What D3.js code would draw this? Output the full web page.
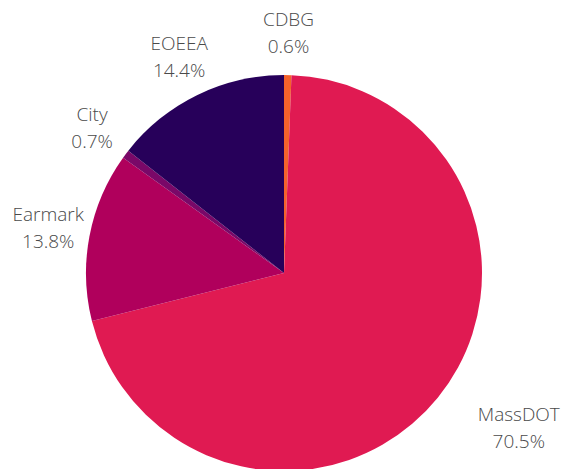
<!DOCTYPE html>
<html>

<head>
    <meta charset="utf-8">
    <title>Funding sources</title>
    <style>
        body {
            margin: 0;
            background: #fff;
        }

        svg {
            font-family: 'Open Sans', sans-serif;
        }

        .label text {
            font-size: 19px;
            font-weight: 300;
            fill: #4a4a4a;
        }
    </style>
</head>

<body>
    <figure style="margin:0"></figure>

    <script src="https://d3js.org/d3.v7.min.js"></script>

    <script>

        ////////////////////////////////////
        ///////////// Data /////////////////
        ////////////////////////////////////

        // slices in clockwise order from 12 o'clock
        const sources = ['CDBG', 'MassDOT', 'Earmark', 'City', 'EOEEA']
        const shares = [0.6, 70.5, 13.8, 0.7, 14.4]
        const colors = ['#f4622b', '#e01a52', '#b0005c', '#7a0868', '#27005a']

        const data = sources.map((s, i) => ({ name: s, value: shares[i], color: colors[i] }))

        ////////////////////////////////////
        ///////////// SVG Setup ////////////
        ////////////////////////////////////

        const width = 563
        const height = 469
        const radius = 198
        const cx = 284
        const cy = 273

        const svg = d3.select('figure')
            .append('svg')
            .attr('width', width)
            .attr('height', height)

        const g = svg.append('g')
            .attr('transform', `translate(${cx},${cy})`)

        const pie = d3.pie()
            .sort(null)
            .value(d => d.value)

        const arc = d3.arc()
            .innerRadius(0)
            .outerRadius(radius)

        const arcs = pie(data)

        ////////////////////////////////////
        /////////////// Slices /////////////
        ////////////////////////////////////

        g.selectAll('path.slice')
            .data(arcs)
            .enter()
            .append('path')
            .attr('class', 'slice')
            .attr('d', arc)
            .style('fill', d => d.data.color)

        ////////////////////////////////////
        /////////////// Labels /////////////
        ////////////////////////////////////

        const labelRadius = 240
        const lineH = 27

        const labels = g.selectAll('g.label')
            .data(arcs)
            .enter()
            .append('g')
            .attr('class', 'label')

        labels.append('text')
            .attr('text-anchor', 'middle')
            .attr('y', -lineH / 2 + 6)
            .text(d => d.data.name)

        labels.append('text')
            .attr('text-anchor', 'middle')
            .attr('y', lineH / 2 + 6)
            .text(d => d.data.value.toFixed(1) + '%')

        // place each label along its mid angle; if its box hits the pie,
        // push it out along the angle a bit and then sideways
        labels.each(function (d) {
            const a = (d.startAngle + d.endAngle) / 2
            const dx = Math.sin(a), dy = -Math.cos(a)
            const w = d3.max(d3.select(this).selectAll('text').nodes(), n => n.getComputedTextLength())
            const h = lineH * 2

            function nearest(x, y) {
                const xs = [x - w / 2, x + w / 2], ys = [y - h / 2, y + h / 2]
                let m = Infinity
                xs.forEach(px => ys.forEach(py => { m = Math.min(m, Math.hypot(px, py)) }))
                return m
            }

            let t = labelRadius
            let x = dx * t, y = dy * t
            if (nearest(x, y) < radius) {
                while (nearest(dx * t, dy * t) < radius) t += 1
                x = dx * t
                y = dy * t
                while (nearest(x, y) < radius + 34) x += Math.sign(dx)
            }
            d3.select(this).attr('transform', `translate(${x},${y})`)
        })

    </script>
</body>

</html>
